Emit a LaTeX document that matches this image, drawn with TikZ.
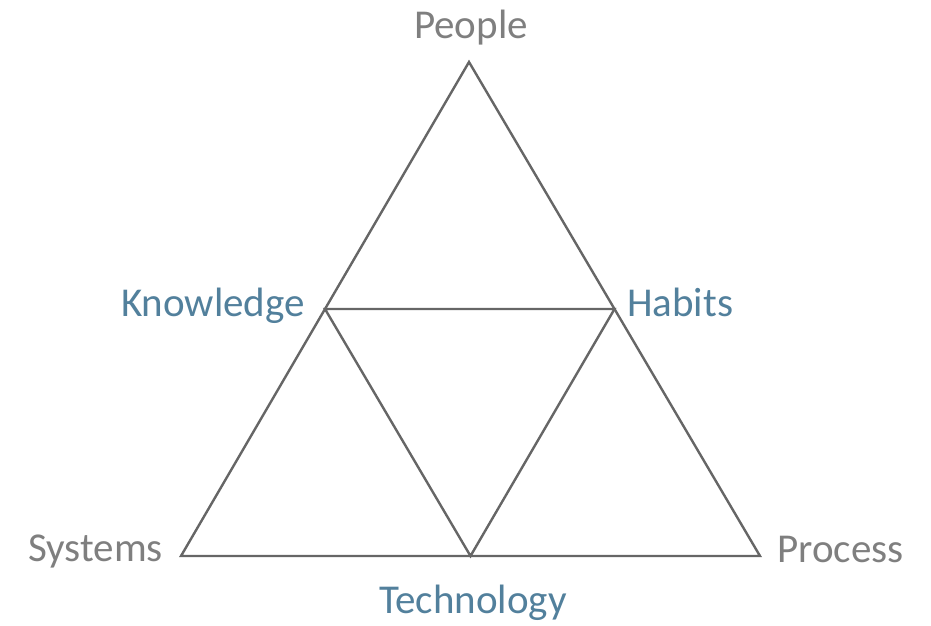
\documentclass[tikz,border=0pt]{standalone}
\usepackage{fontspec}
\setmainfont{Carlito}
\usetikzlibrary{calc}
\definecolor{edgegray}{HTML}{666666}
\definecolor{cornergray}{HTML}{7F7F7F}
\definecolor{midblue}{HTML}{52809C}
\tikzset{
  corner label/.style={text=cornergray, font=\fontsize{41}{47}\selectfont, inner sep=0pt},
  mid label/.style={text=midblue, font=\fontsize{41}{47}\selectfont, inner sep=0pt},
  side/.style={draw=edgegray, line width=2.4pt, line join=miter},
}
\begin{document}
\begin{tikzpicture}[x=1pt, y=-1pt]
  \useasboundingbox (0,0) rectangle (931,625);
  % Corners
  \coordinate (people) at (469,62);
  \coordinate (systems) at (181,556);
  \coordinate (process) at (760,556);
  % Midpoints
  \coordinate (knowledge) at ($(people)!0.5!(systems)$);
  \coordinate (habits) at ($(people)!0.5!(process)$);
  \coordinate (technology) at ($(systems)!0.5!(process)$);

  % Triangles
  \draw[side] (people) -- (process) -- (systems) -- cycle;
  \draw[side] (knowledge) -- (habits) -- (technology) -- cycle;

  % Labels
  \node (peoplelbl) [corner label, anchor=base] at (471,38) {People};
  \node (systemslbl) [corner label, anchor=base east] at (163,561) {Systems};
  \node (processlbl) [corner label, anchor=base west] at (777,562) {Process};
  \node (knowledgelbl) [mid label, anchor=base east] at (305,316) {Knowledge};
  \node (habitslbl) [mid label, anchor=base west] at (627,316) {Habits};
  \node (technologylbl) [mid label, anchor=base] at (473,613) {Technology};
\end{tikzpicture}
\end{document}
